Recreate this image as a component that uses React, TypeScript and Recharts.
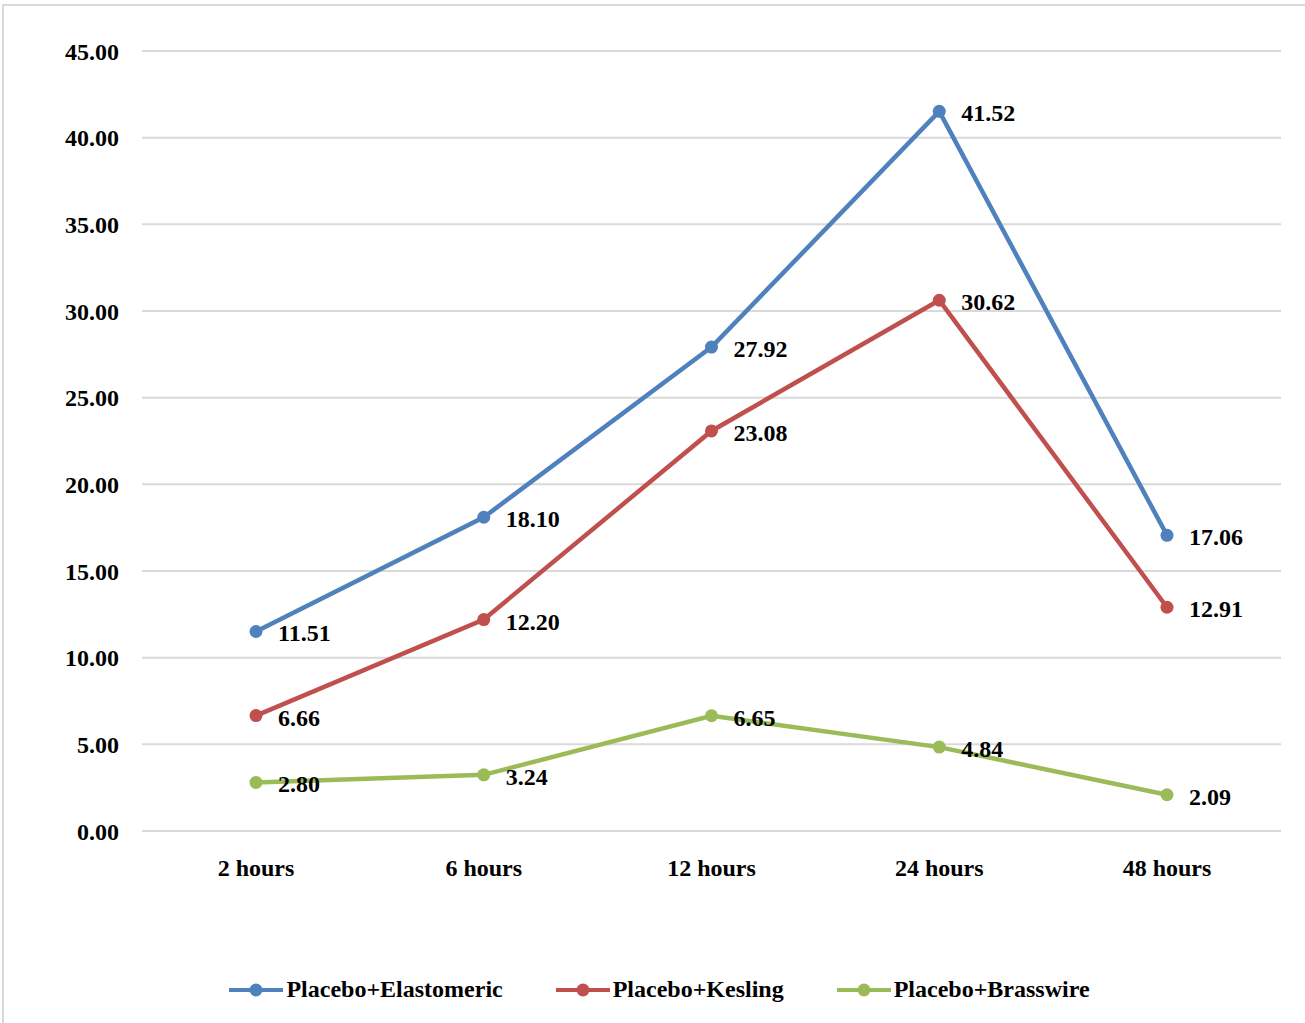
import React from 'react';
import { LineChart, Line, XAxis, YAxis, CartesianGrid } from 'recharts';

const hours = ['2 hours', '6 hours', '12 hours', '24 hours', '48 hours'];
const elastomeric = [11.51, 18.1, 27.92, 41.52, 17.06];
const kesling = [6.66, 12.2, 23.08, 30.62, 12.91];
const brasswire = [2.8, 3.24, 6.65, 4.84, 2.09];
const yTicks = [0, 5, 10, 15, 20, 25, 30, 35, 40, 45];

const SERIES = [
  { key: 'elastomeric', name: 'Placebo+Elastomeric', color: '#4F81BD' },
  { key: 'kesling', name: 'Placebo+Kesling', color: '#C0504D' },
  { key: 'brasswire', name: 'Placebo+Brasswire', color: '#9BBB59' },
];

const data = hours.map((h, i) => ({
  hour: h,
  elastomeric: elastomeric[i],
  kesling: kesling[i],
  brasswire: brasswire[i],
}));

const FONT = '"Liberation Serif", "Times New Roman", serif';
const FONT_SIZE = 24;

// value printed to the right of each point
const PointLabel = (props: any) => {
  const { x, y, value } = props;
  return (
    <text
      x={x + 22}
      y={y + 2}
      dominantBaseline="central"
      fontFamily={FONT}
      fontWeight="bold"
      fontSize={FONT_SIZE}
      fill="#000"
    >
      {Number(value).toFixed(2)}
    </text>
  );
};

const ChartLegend = () => (
  <div
    style={{
      position: 'absolute',
      top: 976,
      left: 0,
      width: 1305,
      display: 'flex',
      justifyContent: 'center',
      gap: 53,
      fontFamily: FONT,
      fontWeight: 'bold',
      fontSize: FONT_SIZE,
      paddingLeft: 14,
      boxSizing: 'border-box',
    }}
  >
    {SERIES.map((s) => (
      <div key={s.key} style={{ display: 'flex', alignItems: 'center' }}>
        <svg width={54} height={20} style={{ marginRight: 3 }}>
          <line x1={0} y1={10} x2={54} y2={10} stroke={s.color} strokeWidth={4} />
          <circle cx={27} cy={10} r={6.5} fill={s.color} />
        </svg>
        <span>{s.name}</span>
      </div>
    ))}
  </div>
);

export default function App() {
  return (
    <div
      style={{
        position: 'absolute',
        top: 0,
        left: 0,
        width: 1305,
        height: 1023,
        overflow: 'hidden',
        background: '#fff',
      }}
    >
      <div
        style={{
          position: 'absolute',
          left: 2,
          top: 4,
          width: 1400,
          height: 1200,
          border: '2px solid #d9d9d9',
        }}
      />
      <div style={{ position: 'absolute', left: 0, top: 0 }}>
        <LineChart
          width={1305}
          height={1023}
          data={data}
          margin={{ top: 51, right: 24, bottom: 82, left: 0 }}
        >
          <CartesianGrid vertical={false} stroke="#d9d9d9" strokeWidth={2} />
          <XAxis
            dataKey="hour"
            padding={{ left: 114, right: 114 }}
            axisLine={false}
            tickLine={false}
            tickSize={0}
            tickMargin={28}
            height={110}
            tick={{ fontFamily: FONT, fontWeight: 'bold', fontSize: FONT_SIZE, fill: '#000' }}
          />
          <YAxis
            domain={[0, 45]}
            ticks={yTicks}
            width={142}
            axisLine={false}
            tickLine={false}
            tickSize={0}
            tickMargin={23}
            tickFormatter={(v: number) => v.toFixed(2)}
            tick={{ fontFamily: FONT, fontWeight: 'bold', fontSize: FONT_SIZE, fill: '#000' }}
          />
          {SERIES.map((s) => (
            <Line
              key={s.key}
              type="linear"
              dataKey={s.key}
              name={s.name}
              stroke={s.color}
              strokeWidth={4.5}
              dot={{ r: 6.5, fill: s.color, stroke: s.color, strokeWidth: 0 }}
              label={<PointLabel />}
              isAnimationActive={false}
            />
          ))}
        </LineChart>
      </div>
      <ChartLegend />
    </div>
  );
}
